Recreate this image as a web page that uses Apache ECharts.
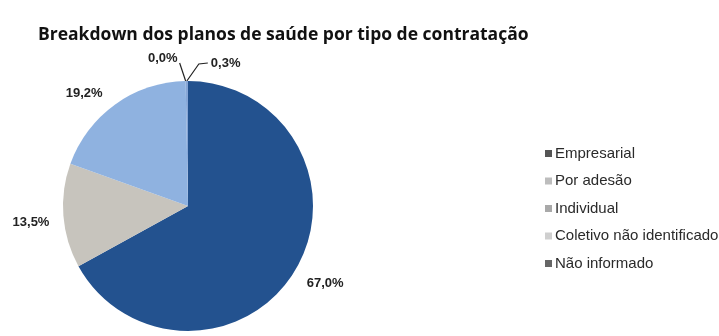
<!DOCTYPE html>
<html>
<head>
<meta charset="utf-8">
<script src="https://cdn.jsdelivr.net/npm/echarts@6/dist/echarts.min.js"></script>
<style>
  html, body { margin: 0; padding: 0; background: #ffffff; }
  #chart { width: 719px; height: 336px; }
</style>
</head>
<body>
<div id="chart"></div>
<script>
// Participação de cada tipo de contratação (%)
const categories = ['Empresarial', 'Por adesão', 'Individual', 'Coletivo não identificado', 'Não informado'];
const shares = [67.0, 13.5, 19.2, 0.0, 0.3];
const sliceColors = ['#23528f', '#c7c4bd', '#8fb2e0', '#b9d0ee', '#86a6d6'];
const legendColors = ['#555555', '#bdbdbd', '#a9a9a9', '#cfcfcf', '#666666'];

const chart = echarts.init(document.getElementById('chart'));

const fmt = v => v.toFixed(1).replace('.', ',') + '%';

chart.setOption({
  animation: false,
  backgroundColor: '#ffffff',
  title: {
    text: 'Breakdown dos planos de saúde por tipo de contratação',
    left: 33,
    top: 21,
    textStyle: { fontFamily: 'Open Sans', fontWeight: 'bold', fontSize: 17.5, color: '#111111' }
  },
  legend: {
    orient: 'vertical',
    left: 540,
    top: 140,
    itemWidth: 7,
    itemHeight: 7,
    itemGap: 10.5,
    icon: 'rect',
    textStyle: { fontFamily: 'Liberation Sans', fontSize: 15, lineHeight: 17, color: '#2a2a2a', padding: [0, 0, 0, -2] },
    data: categories.map((n, i) => ({ name: n, itemStyle: { color: legendColors[i] } }))
  },
  series: [{
    type: 'pie',
    center: [188, 206],
    radius: 125,
    startAngle: 90,
    clockwise: true,
    avoidLabelOverlap: false,
    minAngle: 0,
    itemStyle: { borderWidth: 0 },
    label: {
      show: true,
      position: 'outside',
      fontFamily: 'Liberation Sans',
      fontWeight: 'bold',
      fontSize: 13,
      color: '#222222',
      formatter: p => fmt(p.value)
    },
    labelLine: { show: false, length: 13, length2: 0 },
    labelLayout: function (p) {
      if (p.dataIndex === 0) return { dx: -5, dy: 7 };
      if (p.dataIndex === 1) return { dx: 4, dy: 6 };
      if (p.dataIndex === 3 || p.dataIndex === 4) {
        const s = p.labelLinePoints ? p.labelLinePoints[0] : [188, 82];
        if (p.dataIndex === 3) {
          const e = [s[0] - 6, s[1] - 18];
          return { x: e[0] - 2, y: e[1] - 5, align: 'right', verticalAlign: 'middle',
                   labelLinePoints: [s, e, e] };
        }
        const m = [s[0] + 12, s[1] - 17];
        const e = [s[0] + 21, s[1] - 18];
        return { x: e[0] + 3, y: e[1], align: 'left', verticalAlign: 'middle',
                 labelLinePoints: [s, m, e] };
      }
      return {};
    },
    data: categories.map((n, i) => ({
      name: n,
      value: shares[i],
      itemStyle: { color: sliceColors[i] },
      labelLine: (i >= 3) ? { show: true, lineStyle: { color: '#222222', width: 1.2 } } : { show: false }
    }))
  }]
});
</script>
</body>
</html>
